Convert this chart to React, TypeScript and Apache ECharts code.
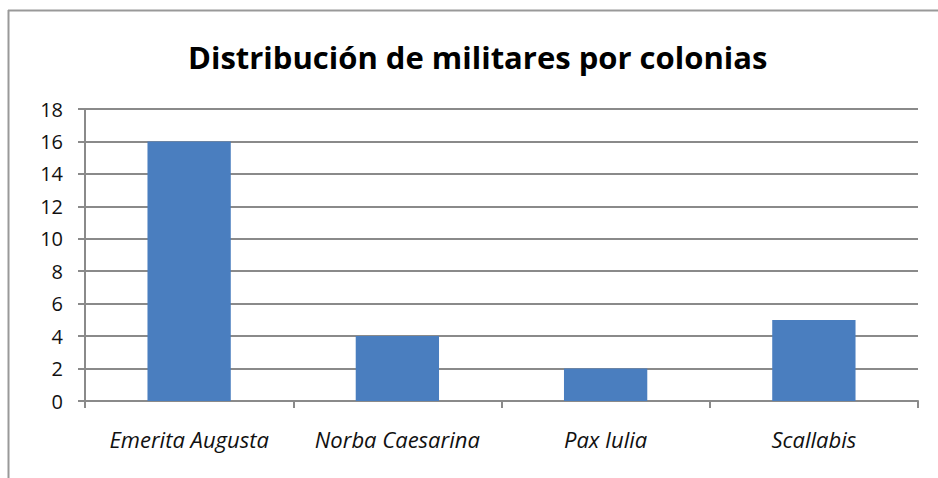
import React, { useEffect, useRef } from "react";
import * as echarts from "echarts";

const categories = ["Emerita Augusta", "Norba Caesarina", "Pax Iulia", "Scallabis"];
const values = [16, 4, 2, 5];
const titleText = "Distribución de militares por colonias";

export default function App() {
  const ref = useRef<HTMLDivElement>(null);
  useEffect(() => {
    if (!ref.current) return;
    const chart = echarts.init(ref.current, null, { renderer: "svg" });
    chart.setOption({
      animation: false,
      backgroundColor: "#ffffff",
      title: {
        text: titleText,
        left: 183,
        top: 36,
        textStyle: { fontFamily: "Open Sans", fontWeight: "bold", fontSize: 31, color: "#000" },
      },
      grid: { left: 85, right: 20, top: 109, bottom: 77 },
      xAxis: {
        type: "category",
        data: categories,
        axisLine: { lineStyle: { color: "#8a8a8a", width: 2 } },
        axisTick: { show: true, interval: 0, length: 7, alignWithLabel: false, lineStyle: { color: "#8a8a8a", width: 2 } },
        axisLabel: { interval: 0, hideOverlap: false, fontFamily: "Open Sans", fontStyle: "italic", fontSize: 22, color: "#111", margin: 27 },
      },
      yAxis: {
        type: "value",
        min: 0,
        max: 18,
        interval: 2,
        axisLine: { show: true, lineStyle: { color: "#8a8a8a", width: 2 } },
        axisTick: { show: true, length: 7, lineStyle: { color: "#8a8a8a", width: 2 } },
        splitLine: { lineStyle: { color: "#8a8a8a", width: 2 } },
        axisLabel: { fontFamily: "Open Sans", fontSize: 20, color: "#111", margin: 22 },
      },
      series: [
        {
          type: "bar",
          data: values,
          barWidth: "40%",
          itemStyle: { color: "#4a7ebf" },
        },
      ],
      graphic: [
        { type: "line", shape: { x1: 8.5, y1: 10, x2: 8.5, y2: 478 }, style: { stroke: "#999", lineWidth: 2 } },
        { type: "line", shape: { x1: 8, y1: 10.5, x2: 938, y2: 10.5 }, style: { stroke: "#999", lineWidth: 2 } },
      ],
    });
    return () => chart.dispose();
  }, []);
  return <div ref={ref} style={{ position: "fixed", left: 0, top: 0, width: 938, height: 478 }} />;
}
